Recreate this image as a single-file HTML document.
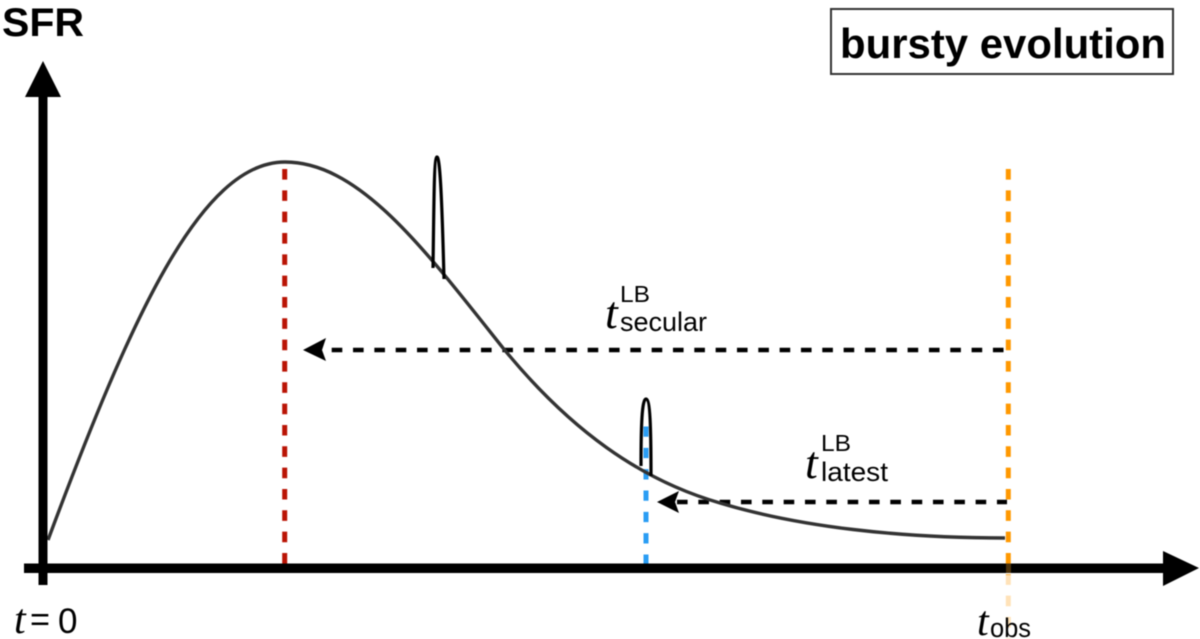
<!DOCTYPE html>
<html>
<head>
<meta charset="utf-8">
<style>
html,body{margin:0;padding:0;background:#fff;width:1200px;height:639px;overflow:hidden}
svg{display:block;filter:blur(0.55px)}
.s{font-family:"Liberation Sans",sans-serif}
.t{font-family:"Liberation Serif",serif;font-style:italic}
</style>
</head>
<body>
<svg width="1200" height="639" viewBox="0 0 1200 639" xmlns="http://www.w3.org/2000/svg">
<rect width="1200" height="639" fill="#fff"/>

<!-- pale orange continuation -->
<line x1="1008.3" y1="169" x2="1008.3" y2="639" stroke="#ff9800" stroke-width="5" stroke-dasharray="10.6 10.73"/>
<rect x="1000" y="575" width="20" height="64" fill="#fff" fill-opacity="0.72"/>

<!-- red and blue dashed -->
<line x1="284.7" y1="169" x2="284.7" y2="566" stroke="#ba1405" stroke-width="5" stroke-dasharray="10.6 10.73"/>
<line x1="646" y1="426" x2="646" y2="564" stroke="#2a9df4" stroke-width="5" stroke-dasharray="10.3 11.03" stroke-dashoffset="-0.5"/>

<!-- black dashed arrows -->
<line x1="331.7" y1="350" x2="1004" y2="350" stroke="#000" stroke-width="4.5" stroke-dasharray="10.6 10.73"/>
<polygon points="303,350 326,338 322,350 326,361" fill="#000"/>
<line x1="677" y1="502" x2="1007" y2="502" stroke="#000" stroke-width="4.5" stroke-dasharray="10.6 10.73"/>
<polygon points="657,502 679,491 675,502 679,513" fill="#000"/>

<!-- SFR curve -->
<path d="M48,540 C130,320 200,162 285,162 C360,162 425,250 503,348 C570,430 640,480 720,503 C800,527 900,538 1005,538" fill="none" stroke="#333" stroke-width="3.4"/>

<!-- bursts -->
<path d="M433,268 C434,200 434,157 437,157 C440,157 442,200 444,279" fill="none" stroke="#000" stroke-width="3.2"/>
<path d="M641,466 C641,425 642,399 646,399 C650,399 651,425 651,476" fill="none" stroke="#000" stroke-width="3.2"/>

<!-- axes -->
<rect x="38.5" y="95" width="9" height="490" fill="#000"/>
<polygon points="43,61 61,97 25,97" fill="#000"/>
<rect x="24" y="563.5" width="1141" height="9.5" fill="#000"/>
<polygon points="1199,568 1163,551 1163,586" fill="#000"/>
<rect x="1006" y="563.5" width="5" height="9.5" fill="#8a5a10" fill-opacity="0.55"/>

<!-- labels -->
<text class="s" x="2" y="36" font-size="40" font-weight="700" fill="#000" textLength="82" lengthAdjust="spacingAndGlyphs">SFR</text>

<rect x="831" y="9" width="342" height="65" fill="#fff" stroke="#333" stroke-width="2"/>
<text class="s" x="840" y="58" font-size="41.5" font-weight="700" fill="#000" textLength="326" lengthAdjust="spacingAndGlyphs">bursty evolution</text>

<text class="t" x="605" y="328" font-size="46" fill="#000">t</text>
<text class="s" x="620" y="302" font-size="23.5" fill="#000" textLength="30" lengthAdjust="spacingAndGlyphs">LB</text>
<text class="s" x="620" y="331" font-size="27" fill="#000" textLength="87" lengthAdjust="spacingAndGlyphs">secular</text>

<text class="t" x="805" y="478" font-size="46" fill="#000">t</text>
<text class="s" x="821" y="451" font-size="23.5" fill="#000" textLength="30" lengthAdjust="spacingAndGlyphs">LB</text>
<text class="s" x="821" y="481" font-size="27" fill="#000" textLength="67" lengthAdjust="spacingAndGlyphs">latest</text>

<text class="t" x="977" y="635" font-size="42" fill="#000">t</text>
<text class="s" x="990" y="637" font-size="27" fill="#000" textLength="41" lengthAdjust="spacingAndGlyphs">obs</text>

<text class="t" x="14" y="633" font-size="42" fill="#000">t</text>
<text class="s" x="30" y="631" font-size="34" fill="#000" textLength="20" lengthAdjust="spacingAndGlyphs">=</text>
<text class="s" x="58" y="633" font-size="35" fill="#000">0</text>
</svg>
</body>
</html>
